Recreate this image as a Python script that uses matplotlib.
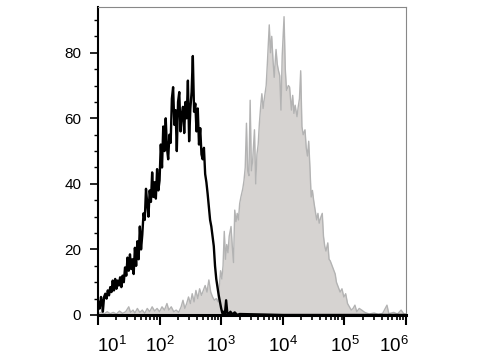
import matplotlib
matplotlib.use("Agg")
import matplotlib.pyplot as plt
import matplotlib.transforms as mtransforms
from matplotlib.ticker import LogLocator, MultipleLocator
import numpy as np

plt.rcParams['font.family'] = ['Liberation Sans', 'DejaVu Sans']
plt.rcParams['mathtext.fontset'] = 'custom'
plt.rcParams['mathtext.rm'] = 'Liberation Sans'

# isotype / unstained control (black open histogram), x in log10 units
black_log = [1.00, 1.02, 1.03, 1.05, 1.07, 1.08, 1.10, 1.12, 1.14, 1.16,
             1.18, 1.20, 1.22, 1.24, 1.26, 1.28, 1.30, 1.32, 1.34, 1.36,
             1.38, 1.40, 1.42, 1.44, 1.46, 1.48, 1.50, 1.52, 1.54, 1.56,
             1.58, 1.60, 1.62, 1.64, 1.66, 1.68, 1.70, 1.72, 1.74, 1.76,
             1.78, 1.80, 1.82, 1.84, 1.86, 1.88, 1.90, 1.92, 1.94, 1.96,
             1.98, 2.00, 2.02, 2.04, 2.06, 2.08, 2.10, 2.12, 2.14, 2.16,
             2.18, 2.20, 2.22, 2.24, 2.26, 2.28, 2.30, 2.32, 2.34, 2.36,
             2.38, 2.40, 2.42, 2.44, 2.46, 2.48, 2.50, 2.52, 2.54, 2.56,
             2.58, 2.60, 2.62, 2.64, 2.66, 2.68, 2.70, 2.72, 2.74, 2.76,
             2.78, 2.80, 2.82, 2.84, 2.86, 2.88, 2.90, 2.92, 2.94, 2.96,
             2.98, 3.00, 3.02, 3.04, 3.06, 3.08, 3.10, 3.12, 3.15, 3.18,
             3.22, 3.26, 3.30, 4.00, 5.00, 6.00]
black_counts = [1.5, 4.0, 2.0, 5.5, 3.5, 1.0, 5.5, 6.5, 5.0, 7.5,
                6.0, 8.5, 7.0, 10.5, 7.5, 11.0, 8.0, 10.5, 9.0, 11.5,
                8.5, 12.0, 10.0, 14.5, 12.0, 17.5, 13.5, 18.5, 14.0, 17.0,
                12.5, 20.5, 15.0, 22.5, 17.0, 27.0, 20.0, 24.5, 31.0, 29.0,
                38.5, 34.0, 30.0, 38.0, 34.5, 43.5, 36.0, 40.5, 35.5, 44.5,
                38.0, 41.0, 52.0, 45.0, 57.5, 50.0, 60.0, 51.0, 47.5, 55.0,
                52.5, 66.0, 69.5, 58.0, 62.5, 50.0, 65.0, 68.0, 56.0, 61.0,
                63.5, 55.5, 65.0, 60.0, 71.5, 53.0, 63.0, 68.0, 79.0, 62.0,
                64.5, 56.0, 63.0, 52.0, 57.0, 49.0, 47.5, 51.0, 43.0, 40.5,
                37.0, 33.0, 29.0, 27.0, 24.0, 21.0, 15.0, 11.0, 8.5, 6.0,
                4.0, 2.0, 0.5, 1.0, 0.2, 4.5, 0.5, 0.2, 1.0, 0.2,
                0.8, 0.0, 0.3, 0.0, 0.0, 0.0]

# stained sample (grey filled histogram), x in log10 units
grey_log = [1.00, 1.05, 1.10, 1.15, 1.20, 1.25, 1.30, 1.35, 1.40, 1.45,
            1.50, 1.53, 1.57, 1.60, 1.64, 1.68, 1.72, 1.76, 1.80, 1.84,
            1.88, 1.92, 1.96, 2.00, 2.04, 2.08, 2.12, 2.15, 2.19, 2.23,
            2.27, 2.31, 2.35, 2.38, 2.41, 2.44, 2.47, 2.50, 2.53, 2.56,
            2.59, 2.62, 2.65, 2.68, 2.71, 2.74, 2.77, 2.80, 2.83, 2.86,
            2.89, 2.92, 2.95, 2.97, 2.99, 3.01, 3.03, 3.05, 3.07, 3.09,
            3.11, 3.13, 3.16, 3.18, 3.20, 3.22, 3.24, 3.26, 3.28, 3.30,
            3.32, 3.35, 3.37, 3.39, 3.41, 3.43, 3.45, 3.47, 3.49, 3.51,
            3.54, 3.56, 3.58, 3.60, 3.62, 3.64, 3.66, 3.68, 3.70, 3.73,
            3.75, 3.78, 3.80, 3.82, 3.84, 3.86, 3.89, 3.91, 3.93, 3.95,
            3.97, 3.99, 4.02, 4.04, 4.06, 4.09, 4.11, 4.14, 4.16, 4.18,
            4.20, 4.23, 4.25, 4.27, 4.29, 4.31, 4.33, 4.36, 4.38, 4.40,
            4.42, 4.44, 4.46, 4.48, 4.50, 4.52, 4.55, 4.57, 4.59, 4.62,
            4.64, 4.66, 4.68, 4.70, 4.73, 4.75, 4.77, 4.80, 4.82, 4.85,
            4.87, 4.90, 4.93, 4.96, 4.99, 5.02, 5.05, 5.08, 5.11, 5.14,
            5.17, 5.20, 5.24, 5.28, 5.33, 5.40, 5.48, 5.55, 5.62, 5.69,
            5.72, 5.80, 5.86, 5.92, 5.96, 6.00]
grey_counts = [0.3, 0.8, 0.3, 1.0, 0.4, 0.8, 0.3, 1.2, 0.5, 1.0,
               2.5, 0.8, 1.5, 0.6, 2.0, 0.8, 1.5, 0.5, 2.0, 1.0,
               2.5, 1.2, 2.0, 1.0, 2.5, 1.5, 3.5, 1.5, 2.5, 1.0,
               1.5, 0.8, 2.5, 4.5, 2.0, 3.5, 5.5, 3.5, 6.5, 4.0,
               7.5, 5.0, 8.0, 6.0, 7.5, 9.0, 7.0, 10.7, 7.0, 5.5,
               4.5, 5.0, 4.0, 9.0, 13.5, 11.0, 15.0, 25.5, 17.0, 21.5,
               19.0, 24.0, 27.0, 21.0, 16.0, 32.0, 28.5, 31.0, 29.0, 34.0,
               36.0, 38.5, 41.0, 45.0, 58.5, 44.0, 42.5, 65.5, 44.0, 47.0,
               56.5, 40.0, 49.0, 52.0, 58.5, 63.5, 67.5, 63.0, 66.0, 70.0,
               77.0, 88.5, 80.0, 85.0, 78.0, 72.5, 81.0, 76.5, 74.5, 73.0,
               62.5, 79.0, 91.0, 75.0, 68.5, 70.0, 69.5, 62.5, 67.0, 61.5,
               64.0, 60.5, 63.5, 66.0, 74.5, 57.5, 55.0, 56.5, 51.0, 48.5,
               53.0, 45.0, 36.0, 38.0, 35.0, 32.5, 29.0, 31.0, 28.0, 30.0,
               31.0, 24.0, 21.0, 19.5, 22.0, 17.0, 16.5, 15.0, 14.0, 12.5,
               10.0, 8.5, 7.0, 8.0, 5.5, 6.5, 3.5, 2.5, 1.5, 2.0,
               3.0, 1.0, 2.0, 1.5, 0.8, 0.3, 0.6, 0.2, 0.5, 3.0,
               0.4, 0.8, 0.3, 1.5, 0.4, 0.2]

decades = [1, 2, 3, 4, 5, 6]
decade_labels = [r'$\mathdefault{10^{%d}}$' % d for d in decades]

xb = 10 ** np.array(black_log)
xg = 10 ** np.array(grey_log)

fig = plt.figure(figsize=(4.8, 3.6), dpi=100)
ax = fig.add_axes([0.204, 0.125, 0.642, 0.856])

ax.fill_between(xg, grey_counts, 0, color='#d6d3d1', lw=0)
ax.plot(xg, grey_counts, color='#b3b3b3', lw=1.0)
ax.plot(xb, black_counts, color='black', lw=1.7)

ax.set_xscale('log')
ax.set_xlim(10, 1e6)
ax.set_ylim(0, 94)

ax.set_xticks([10.0 ** d for d in decades])
ax.set_xticklabels(decade_labels)
ax.xaxis.set_minor_locator(LogLocator(base=10, subs=np.arange(2, 10), numticks=20))
ax.yaxis.set_major_locator(MultipleLocator(20))
ax.yaxis.set_minor_locator(MultipleLocator(5))

ax.tick_params(axis='x', which='major', length=7, width=1.5, labelsize=13.5, pad=8)
ax.tick_params(axis='x', which='minor', length=3.5, width=1.2)
ax.tick_params(axis='y', which='major', length=6, width=1.2, labelsize=11, pad=6)
ax.tick_params(axis='y', which='minor', length=3, width=1.0)

ax.spines['left'].set_linewidth(1.5)
ax.spines['bottom'].set_linewidth(2.2)
for s in ['top', 'right']:
    ax.spines[s].set_color('#888888')
    ax.spines[s].set_linewidth(0.8)

# first and last decade labels sit inward from their ticks, as in the original
labels = ax.get_xticklabels()
shift_first = mtransforms.ScaledTranslation(14 / 100, 0, fig.dpi_scale_trans)
shift_last = mtransforms.ScaledTranslation(-12 / 100, 0, fig.dpi_scale_trans)
labels[0].set_transform(labels[0].get_transform() + shift_first)
labels[-1].set_transform(labels[-1].get_transform() + shift_last)

fig.savefig('out.png', dpi=100)
